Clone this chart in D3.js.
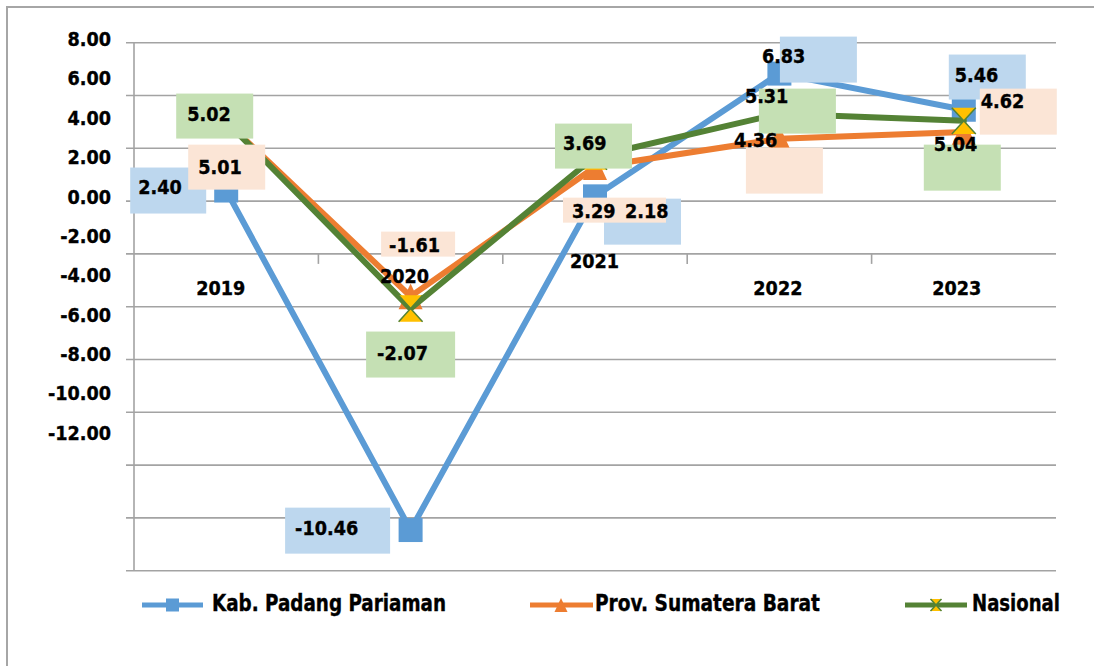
<!DOCTYPE html>
<html>
<head>
<meta charset="utf-8">
<script src="https://cdn.jsdelivr.net/npm/d3@7"></script>
<style>
  html, body { margin: 0; padding: 0; background: #ffffff; }
  svg { display: block; }
  text { font-family: "DejaVu Sans Condensed", "DejaVu Sans", sans-serif; font-weight: bold; font-stretch: condensed; fill: #000; stroke: #000; stroke-width: 0.35px; }
</style>
</head>
<body>
<svg id="chart" width="1094" height="666"></svg>
<script>
// ---------- data ----------
const years = ["2019", "2020", "2021", "2022", "2023"];
const kabValues = [2.40, -10.46, 2.18, 6.83, 5.46];
const provValues = [5.01, -1.61, 3.29, 4.36, 4.62];
const nasValues = [5.02, -2.07, 3.69, 5.31, 5.04];
const seriesNames = ["Kab. Padang Pariaman", "Prov. Sumatera Barat", "Nasional"];
const yTickValues = [8, 6, 4, 2, 0, -2, -4, -6, -8, -10, -12];
const yTickLabels = ["8.00", "6.00", "4.00", "2.00", "0.00", "-2.00", "-4.00", "-6.00", "-8.00", "-10.00", "-12.00"];

// ---------- layout (label placement relative to each point) ----------
// [boxDx, boxDy, boxW, boxH, textDx, textDy]
const kabLabelLayout = [
  [-96, -23, 76, 46, -88, -4],
  [-125.5, -22.4, 105, 46, -115.5, -2.4],
  [9, 2.3, 77, 46, 30, 14.3],
  [0.5, -37, 77, 46, -17.5, -17.5],
  [-15, -55.2, 77, 45, -9, -35.2]
];
const provLabelLayout = [
  [-38, 23, 77, 45, -28, 45],
  [-29.5, -64.8, 74, 25, -21.5, -51.8],
  [-32, 30.6, 103, 25, -23, 43.6],
  [-33.5, 8.8, 77, 46, -45.5, 1.3],
  [16, -43.3, 77, 46, 17, -31.3]
];
const nasLabelLayout = [
  [-50, -27.8, 77, 45, -39, -7.8],
  [-44.5, 23, 89, 46, -33.5, 44],
  [-40, -32.9, 77, 45, -32, -13.9],
  [-20.5, -25.1, 77, 45, -34.5, -17.6],
  [-40, 23.8, 77, 46, -30, 23.3]
];
const categoryLabelOffset = [[-5.5, 287.5], [-6, 276], [-0.5, 261], [-1.5, 288], [-7, 288]];

const colors = { kab: "#5B9BD5", prov: "#ED7D31", nas: "#548235", yellow: "#FFC000" };
const boxColors = { kab: "#BDD7EE", prov: "#FBE5D6", nas: "#C5E0B4" };

const series = [
  { key: "kab", name: seriesNames[0], values: kabValues, layout: kabLabelLayout, marker: "square" },
  { key: "prov", name: seriesNames[1], values: provValues, layout: provLabelLayout, marker: "triangle" },
  { key: "nas", name: seriesNames[2], values: nasValues, layout: nasLabelLayout, marker: "hourglass" }
];

const svg = d3.select("#chart");
const gridColor = "#a3a3a3";
const fontSize = 19.6;
const capHalf = fontSize * 0.729 / 2;
const fmt = v => d3.format(".2f")(v).replace("\u2212", "-");

// ---------- scales ----------
const x = d3.scaleBand().domain(years).range([134, 1056]);
const cx = d => x(d) + x.bandwidth() / 2;
const y = d3.scaleLinear().domain([-12, 8]).range([570.7, 42.7]);
const yLabel = d3.scaleLinear().domain([-12, 8]).range([432.5, 39]);

// ---------- outer frame ----------
svg.append("path")
  .attr("d", "M7,666 L7,7 L1094,7")
  .attr("fill", "none").attr("stroke", "#a6a6a6").attr("stroke-width", 2);

// ---------- gridlines ----------
svg.append("g").selectAll("line").data(yTickValues).join("line")
  .attr("x1", 126).attr("x2", 1056)
  .attr("y1", d => y(d)).attr("y2", d => y(d))
  .attr("stroke", gridColor).attr("stroke-width", 1.6);

// y axis line
svg.append("line")
  .attr("x1", 134).attr("x2", 134)
  .attr("y1", y(8)).attr("y2", y(-12))
  .attr("stroke", gridColor).attr("stroke-width", 1.6);

// category tick marks at band boundaries
svg.append("g").selectAll("line").data(years.slice(1)).join("line")
  .attr("x1", d => x(d)).attr("x2", d => x(d))
  .attr("y1", y(0)).attr("y2", y(0) + 10)
  .attr("stroke", gridColor).attr("stroke-width", 1.6);

// ---------- marker shapes ----------
function markerPath(type, s) {
  const h = s / 2;
  if (type === "square") return `M${-h},${-h}H${h}V${h}H${-h}Z`;
  if (type === "triangle") return `M0,${-h * 1.08}L${h},${h * 1.08}L${-h},${h * 1.08}Z`;
  return `M${-h},${-h * 1.1}L${h},${-h * 1.1}L${-h},${h * 1.1}L${h},${h * 1.1}Z`;
}
function drawMarker(g, type, color, s) {
  if (type === "hourglass") {
    g.append("path").attr("d", markerPath(type, s))
      .attr("fill", colors.yellow).attr("stroke", "none");
    const h = s / 2;
    g.append("path").attr("d", `M${-h},${-h * 1.1}L${h},${h * 1.1}M${h},${-h * 1.1}L${-h},${h * 1.1}`)
      .attr("stroke", color).attr("stroke-width", 1.5).attr("fill", "none");
  } else {
    g.append("path").attr("d", markerPath(type, s)).attr("fill", color);
  }
}

// ---------- series lines + markers ----------
const line = d3.line().x((d, i) => cx(years[i])).y(d => y(d));
series.forEach(s => {
  const g = svg.append("g");
  g.append("path")
    .attr("d", line(s.values))
    .attr("fill", "none")
    .attr("stroke", colors[s.key])
    .attr("stroke-width", 6)
    .attr("stroke-linejoin", "round")
    .attr("stroke-linecap", "round");
  s.values.forEach((v, i) => {
    const mg = g.append("g").attr("transform", `translate(${cx(years[i])},${y(v)})`);
    drawMarker(mg, s.marker, colors[s.key], 24);
  });
});

// y tick labels
svg.append("g").selectAll("text").data(yTickValues).join("text")
  .attr("x", 111)
  .attr("y", d => yLabel(d) + capHalf)
  .attr("text-anchor", "end")
  .attr("font-size", fontSize)
  .text((d, i) => yTickLabels[i]);

// category labels (drawn above the lines)
svg.append("g").selectAll("text").data(years).join("text")
  .attr("x", (d, i) => cx(d) + categoryLabelOffset[i][0])
  .attr("y", (d, i) => categoryLabelOffset[i][1] + capHalf)
  .attr("text-anchor", "middle")
  .attr("font-size", fontSize)
  .text(d => d);

// ---------- data label boxes ----------
const boxLayer = svg.append("g");
const textLayer = svg.append("g");
series.forEach(s => {
  s.values.forEach((v, i) => {
    const px = cx(years[i]), py = y(v);
    const L = s.layout[i];
    boxLayer.append("rect")
      .attr("x", px + L[0]).attr("y", py + L[1])
      .attr("width", L[2]).attr("height", L[3])
      .attr("fill", boxColors[s.key]);
  });
});
series.forEach(s => {
  s.values.forEach((v, i) => {
    const px = cx(years[i]), py = y(v);
    const L = s.layout[i];
    textLayer.append("text")
      .attr("x", px + L[4]).attr("y", py + L[5] + capHalf)
      .attr("font-size", fontSize)
      .text(fmt(v));
  });
});

// ---------- legend ----------
const legendItems = [
  { s: series[0], x1: 142, x2: 203, mx: 172.5, tx: 212, tl: 234 },
  { s: series[1], x1: 530, x2: 593, mx: 561, tx: 595, tl: 225 },
  { s: series[2], x1: 905, x2: 967, mx: 936, tx: 972, tl: 88 }
];
const legendY = 605;
legendItems.forEach(it => {
  const g = svg.append("g");
  g.append("line")
    .attr("x1", it.x1).attr("x2", it.x2)
    .attr("y1", legendY).attr("y2", legendY)
    .attr("stroke", colors[it.s.key]).attr("stroke-width", 5);
  const mg = g.append("g").attr("transform", `translate(${it.mx},${legendY})`);
  if (it.s.marker === "hourglass") drawMarker(mg, "hourglass", colors[it.s.key], 11);
  else drawMarker(mg, it.s.marker, colors[it.s.key], 13);
  g.append("text")
    .attr("x", it.tx).attr("y", 611)
    .attr("font-size", 23)
    .attr("textLength", it.tl)
    .attr("lengthAdjust", "spacingAndGlyphs")
    .text(it.s.name);
});
</script>
</body>
</html>
